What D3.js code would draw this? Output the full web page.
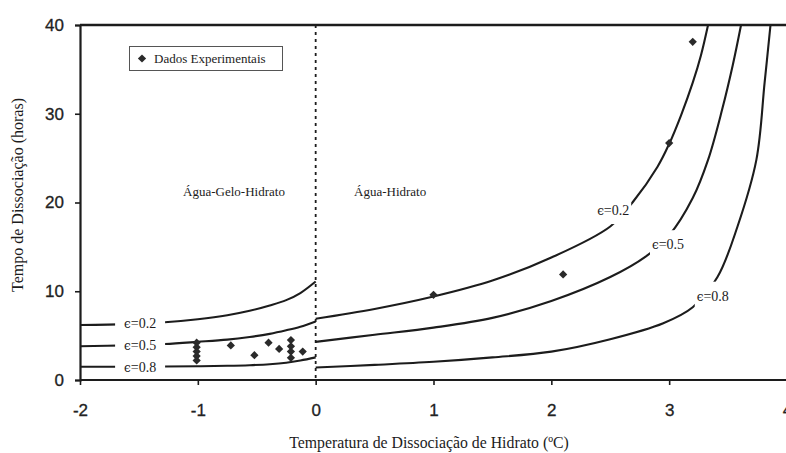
<!DOCTYPE html>
<html>
<head>
<meta charset="utf-8">
<script src="https://cdn.jsdelivr.net/npm/d3@7"></script>
<style>
  html, body { margin: 0; padding: 0; background: #fff; }
  svg { display: block; }
</style>
</head>
<body>
<svg id="chart" width="786" height="453"></svg>
<script>
// Dissociation time (hours) vs. hydrate dissociation temperature (°C)
const xTicks = [-2, -1, 0, 1, 2, 3, 4];
const yTicks = [0, 10, 20, 30, 40];

// Model curves, ice region (T < 0) and liquid-water region (T > 0)
const tempIce = [-2, -1.6, -1.28, -1, -0.75, -0.56, -0.39, -0.25, -0.13, 0];
const eps02Ice = [6.2, 6.3, 6.5, 6.85, 7.3, 7.8, 8.4, 9.0, 9.8, 11.1];
const eps05Ice = [3.8, 3.9, 4.05, 4.3, 4.55, 4.85, 5.2, 5.6, 6.0, 6.6];
const eps08Ice = [1.5, 1.5, 1.52, 1.55, 1.6, 1.67, 1.78, 1.95, 2.2, 2.55];

const temp02 = [0, 0.5, 1, 1.5, 2, 2.5, 2.7, 2.9, 3.0, 3.1, 3.2, 3.27, 3.33];
const eps02 = [6.9, 8.0, 9.4, 11.2, 13.8, 17.3, 20.2, 24.0, 26.6, 29.8, 33.5, 36.6, 40];
const temp05 = [0, 0.5, 1, 1.5, 2, 2.5, 2.8, 3.0, 3.2, 3.33, 3.45, 3.54, 3.61];
const eps05 = [4.3, 5.1, 5.9, 7.0, 8.9, 11.6, 13.9, 16.3, 20.5, 24.8, 30.5, 35.5, 40];
const temp08 = [0, 0.5, 1, 1.5, 2, 2.5, 2.95, 3.2, 3.41, 3.58, 3.74, 3.81, 3.86];
const eps08 = [1.4, 1.7, 2.05, 2.55, 3.2, 4.6, 6.4, 8.2, 11.6, 17.3, 24.8, 33.5, 40];

// Experimental points
const expTemp = [-1.01, -1.01, -1.01, -1.01, -1.01, -0.72, -0.52, -0.40, -0.31,
                 -0.21, -0.21, -0.21, -0.21, -0.11, 1.0, 2.1, 3.0, 3.2];
const expTime = [4.2, 3.7, 3.2, 2.7, 2.2, 3.9, 2.8, 4.2, 3.5,
                 4.5, 3.8, 3.2, 2.5, 3.2, 9.6, 11.9, 26.7, 38.1];

const svg = d3.select("#chart");
const x = d3.scaleLinear().domain([-2, 4]).range([80, 787]);
const y = d3.scaleLinear().domain([0, 40]).range([380, 25]);

const ink = "#1c1c1c";
const serif = "'Liberation Serif', 'Times New Roman', serif";
const sans = "'Liberation Sans', Arial, sans-serif";

svg.append("defs").append("clipPath").attr("id", "plot")
  .append("rect")
  .attr("x", x(-2)).attr("y", y(40))
  .attr("width", 786 - x(-2)).attr("height", y(0) - y(40));

// Axes
const xAxis = svg.append("g")
  .attr("transform", `translate(0,${y(0)})`)
  .call(d3.axisBottom(x).tickValues(xTicks).tickSize(5).tickPadding(19).tickFormat(d => String(d)));
const yAxis = svg.append("g")
  .attr("transform", `translate(${x(-2)},0)`)
  .call(d3.axisLeft(y).tickValues(yTicks).tickSize(5).tickPadding(11));
[xAxis, yAxis].forEach(g => {
  g.select(".domain").attr("stroke", ink).attr("stroke-width", 2.2);
  g.selectAll(".tick line").attr("stroke", ink).attr("stroke-width", 1.6);
  g.selectAll(".tick text")
    .attr("fill", "#222")
    .attr("stroke", "#222").attr("stroke-width", 0.3)
    .style("font-family", sans).style("font-size", "17px");
});
xAxis.select(".domain").attr("d", `M${x(-2)},0H786`);

// Top border
svg.append("line")
  .attr("x1", x(-2)).attr("x2", 786)
  .attr("y1", y(40)).attr("y2", y(40))
  .attr("stroke", ink).attr("stroke-width", 2.4);

// Phase boundary at 0 °C
svg.append("line")
  .attr("x1", x(0)).attr("x2", x(0))
  .attr("y1", y(40)).attr("y2", y(0))
  .attr("stroke", ink).attr("stroke-width", 1.8)
  .attr("stroke-dasharray", "3,4");

// Curves
const line = d3.line()
  .x(d => x(d[0])).y(d => y(d[1]))
  .curve(d3.curveCatmullRom.alpha(0.5));
const curves = [
  [tempIce, eps02Ice], [tempIce, eps05Ice], [tempIce, eps08Ice],
  [temp02, eps02], [temp05, eps05], [temp08, eps08]
];
svg.append("g").attr("clip-path", "url(#plot)")
  .selectAll("path")
  .data(curves)
  .join("path")
  .attr("d", ([t, v]) => line(t.map((ti, i) => [ti, v[i]])))
  .attr("fill", "none")
  .attr("stroke", ink)
  .attr("stroke-width", 2.1);

// Curve labels with a white knockout behind the text
const curveLabels = [
  { t: -1.49, v: 6.45, eps: "0.2", w: 50, h: 16 },
  { t: -1.49, v: 3.95, eps: "0.5", w: 50, h: 16 },
  { t: -1.49, v: 1.5, eps: "0.8", w: 50, h: 14 },
  { t: 2.525, v: 19.15, eps: "0.2", w: 36, h: 28 },
  { t: 2.99, v: 15.3, eps: "0.5", w: 36, h: 28 },
  { t: 3.37, v: 9.5, eps: "0.8", w: 36, h: 28 }
];
const lg = svg.append("g");
curveLabels.forEach(d => {
  lg.append("rect")
    .attr("x", x(d.t) - d.w / 2).attr("y", y(d.v) - d.h / 2)
    .attr("width", d.w).attr("height", d.h)
    .attr("fill", "#fff");
  const txt = lg.append("text")
    .attr("x", x(d.t)).attr("y", y(d.v))
    .attr("dy", "0.35em")
    .attr("text-anchor", "middle")
    .attr("fill", ink)
    .style("font-family", serif)
    .style("font-size", "14px");
  txt.append("tspan")
    .style("font-family", "'DejaVu Serif', serif")
    .style("font-size", "12px")
    .text("\u03f5");
  txt.append("tspan").text("=" + d.eps);
});

// Experimental points
const diamond = d3.symbol().type(d3.symbolSquare).size(34);
svg.append("g").selectAll("path")
  .data(expTemp.map((t, i) => [t, expTime[i]]))
  .join("path")
  .attr("d", diamond)
  .attr("transform", d => `translate(${x(d[0])},${y(d[1])}) rotate(45)`)
  .attr("fill", "#2a2a2a");

// Region labels
svg.append("text")
  .attr("x", 234).attr("y", 196)
  .attr("text-anchor", "middle")
  .attr("fill", ink)
  .style("font-family", serif).style("font-size", "13px")
  .text("Água-Gelo-Hidrato");
svg.append("text")
  .attr("x", 354).attr("y", 196)
  .attr("fill", ink)
  .style("font-family", serif).style("font-size", "13px")
  .text("Água-Hidrato");

// Legend
const legend = svg.append("g");
legend.append("rect")
  .attr("x", 129.5).attr("y", 46.5).attr("width", 153).attr("height", 24)
  .attr("fill", "#fff").attr("stroke", "#555").attr("stroke-width", 1);
legend.append("path")
  .attr("d", diamond)
  .attr("transform", "translate(142,58.5) rotate(45)")
  .attr("fill", "#2a2a2a");
legend.append("text")
  .attr("x", 154).attr("y", 63)
  .attr("fill", ink)
  .style("font-family", serif).style("font-size", "13px")
  .text("Dados Experimentais");

// Axis titles
svg.append("text")
  .attr("transform", "translate(23,195) rotate(-90)")
  .attr("text-anchor", "middle")
  .attr("fill", ink)
  .style("font-family", serif).style("font-size", "16px")
  .text("Tempo de Dissociação (horas)");
svg.append("text")
  .attr("x", 429).attr("y", 448)
  .attr("text-anchor", "middle")
  .attr("fill", ink)
  .style("font-family", serif).style("font-size", "15.8px")
  .text("Temperatura de Dissociação de Hidrato (ºC)");
</script>
</body>
</html>
